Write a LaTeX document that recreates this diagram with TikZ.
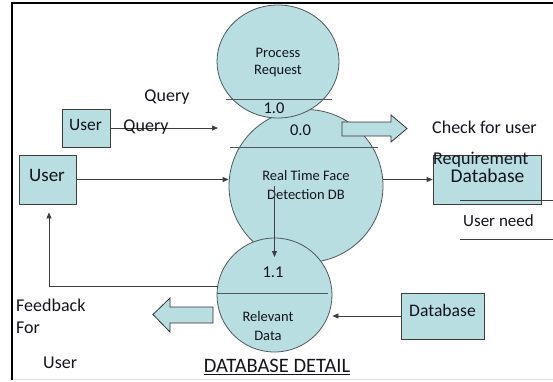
\documentclass[tikz,border=0pt]{standalone}
\usepackage{fontspec}
\setmainfont{Carlito}
\usetikzlibrary{shapes.geometric,arrows.meta}
\definecolor{bubble}{RGB}{184,222,226}
\definecolor{rim}{RGB}{78,88,92}
\definecolor{ink}{RGB}{20,20,28}
\definecolor{wire}{RGB}{62,62,62}
\tikzset{
  proc/.style={ellipse,draw=rim,fill=bubble,line width=0.8pt,inner sep=0pt},
  store/.style={rectangle,draw=wire,fill=bubble,line width=0.8pt,inner sep=0pt},
  divider/.style={draw=rim,line width=0.8pt},
  flow/.style={draw=wire,line width=0.8pt,-{Triangle[length=6pt,width=5pt]}},
  fat/.style={draw=black!80,fill=bubble,line width=0.8pt,line join=miter},
  txt/.style={inner sep=0pt,text=ink,font=\fontsize{18}{20}\selectfont},
  ctxt/.style={inner sep=0pt,text=ink,font=\fontsize{14.5}{16}\selectfont},
  ntxt/.style={inner sep=0pt,text=ink,font=\fontsize{16.5}{18}\selectfont},
}
\begin{document}
\begin{tikzpicture}[x=1pt,y=-1pt]
\useasboundingbox (0,0) rectangle (553,381);
% page frame
\draw[line width=2.2pt] (12,380) -- (12,3) -- (553,3);
\draw[black!12,line width=0.8pt] (13,379) -- (553,379);

% main process bubble
\node[proc,minimum width=154pt,minimum height=153pt] (big) at (306,186) {};
\draw[divider] (230,147) -- (378,147);
\node[ntxt] (n00) at (300.5,130) {0.0};
\node[ctxt] (rt1) at (306,176) {Real Time Face};
\node[ctxt] (rt2) at (306,195) {Detection DB};

% process request bubble
\node[proc,minimum width=122pt,minimum height=113pt] (pr) at (278,61.5) {};
\draw[divider] (226,99) -- (332,99);
\node[ctxt] (pr1) at (278,53) {Process};
\node[ctxt] (pr2) at (278,71) {Request};
\node[ntxt] (n10) at (274,108) {1.0};

% relevant data bubble
\node[proc,minimum width=115pt,minimum height=114pt] (rel) at (274.5,295) {};
\draw[divider] (217,293) -- (328,293);
\node[ntxt] (n11) at (273,272) {1.1};
\node[ctxt] (rd1) at (268,317) {Relevant};
\node[ctxt] (rd2) at (268,336) {Data};

% external entities and stores
\node[store,minimum width=48pt,minimum height=38pt] (uq) at (86,128) {};
\node[txt,font=\fontsize{17.4}{19}\selectfont] at (85.5,125) {User};
\node[store,minimum width=57pt,minimum height=49pt] (ub) at (47.5,179.5) {};
\node[txt,font=\fontsize{19}{21}\selectfont] at (47,175) {User};
\node[store,minimum width=108pt,minimum height=49pt] (dbt) at (487,179.5) {};
\node[txt,font=\fontsize{19.5}{21}\selectfont] at (487.5,176) {Database};
\node[store,minimum width=83pt,minimum height=46pt] (dbb) at (442.5,316) {};
\node[txt,font=\fontsize{17.6}{19}\selectfont] at (442.5,310) {Database};

% data flows
\coordinate (qend) at (218,128);
\draw[flow] (uq.east) -- (qend);
\draw[flow] (ub.east) -- (ub.east -| big.west);
\draw[flow] (dbt.west -| big.east) -- (dbt.west);
\coordinate (vtop) at (274.5,186);
\coordinate (vbot) at (274.5,257);
\draw[flow] (vtop) -- (vbot);
\coordinate (fbs) at (217.5,286);
\draw[flow] (fbs) -| ([xshift=1.5pt,yshift=-8pt]ub.south);
\draw[flow] (dbb.west) -- (dbb.west -| rel.east);

% block arrows
\draw[fat] (342,122) -- (391,122) -- (391,115) -- (407,128.5) -- (391,142) -- (391,136) -- (342,136) -- cycle;
\draw[fat] (213,307) -- (170,307) -- (170,298) -- (153,314.5) -- (170,332) -- (170,323) -- (213,323) -- cycle;

% flow labels
\node[txt] (q1) at (167,97) {Query};
\node[txt] (q2) at (146,127) {Query};
\node[txt,anchor=west] (chk) at (432,127) {Check for user};
\node[txt,anchor=west] (req) at (433,160) {Requirement};
\draw[wire,line width=0.8pt] (460,200.5) -- (553,200.5);
\node[txt,font=\fontsize{17}{19}\selectfont,anchor=west] (need) at (463,221) {User need};
\draw[wire,line width=0.8pt] (460,239) -- (553,239);
\node[txt,anchor=west] (fb1) at (16,305) {Feedback};
\node[txt,anchor=west] (fb2) at (16,328) {For};
\node[txt,anchor=west] (fb3) at (43,363) {User};
\node[txt,font=\fontsize{20.5}{22}\selectfont] (title) at (277,367) {\underline{DATABASE DETAIL}};
\end{tikzpicture}
\end{document}
